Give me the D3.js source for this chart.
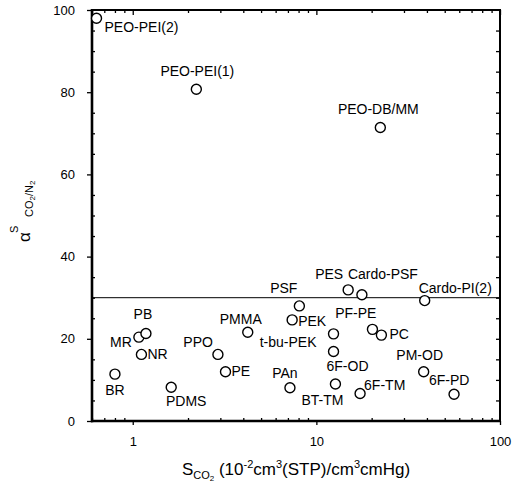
<!DOCTYPE html>
<html>
<head>
<meta charset="utf-8">
<script src="https://cdn.jsdelivr.net/npm/d3@7"></script>
<style>
  body { margin: 0; background: #fff; }
  svg { display: block; font-family: "Liberation Sans", Arial, sans-serif; }
</style>
</head>
<body>
<div id="chart"></div>
<script>
// polymer names, CO2 solubility (x) and CO2/N2 solubility selectivity (y)
const names = ["PEO-PEI(2)", "PEO-PEI(1)", "PEO-DB/MM", "BR", "MR", "PB", "NR", "PDMS",
    "PPO", "PE", "PMMA", "PSF", "PEK", "PAn", "PES", "Cardo-PSF", "Cardo-PI(2)",
    "t-bu-PEK", "6F-OD", "BT-TM", "6F-TM", "PF-PE", "PC", "PM-OD", "6F-PD"];
const solubility = [0.635, 2.22, 22.3, 0.80, 1.08, 1.18, 1.115, 1.62,
    2.91, 3.2, 4.23, 8.08, 7.38, 7.18, 14.9, 17.7, 38.9,
    12.4, 12.4, 12.7, 17.3, 20.2, 22.6, 38.4, 56.2];
const selectivity = [98.0, 80.7, 71.4, 11.4, 20.4, 21.3, 16.2, 8.2,
    16.2, 12.0, 21.6, 28.0, 24.6, 8.1, 31.9, 30.7, 29.3,
    21.2, 16.9, 9.0, 6.7, 22.3, 20.9, 12.0, 6.5];
const upperBound = 30;   // the horizontal reference line

const xMajorTicks = [1, 10, 100];
const yMajorTicks = [0, 20, 40, 60, 80, 100];

// label placement relative to its circle (layout only)
const labelDx = [8, 1, -2, 0, -7, -3, 6, 15, -5, 6, -7, -2, 6, -5, -5, -14, -6, -17, 14, -13, 4, 4, 8, -4, -25];
const labelDy = [14, -13, -14, 21, 10, -14, 5, 19, -7, 4.5, -8, -13, 6, -10, -11, -16, -8, 13, 19, 21, -3, -11, 4, -12, -9];
const labelAnchor = ["start", "middle", "middle", "middle", "end", "middle", "start", "middle",
    "end", "start", "middle", "end", "start", "middle", "end", "start", "start",
    "end", "middle", "middle", "start", "end", "start", "middle", "start"];

const width = 517, height = 490;
const plotLeft = 92, plotRight = 500, plotTop = 10, plotBottom = 421;

const svg = d3.select("#chart").append("svg")
    .attr("width", width)
    .attr("height", height);

const x = d3.scaleLog().domain([0.6, 100]).range([plotLeft, plotRight]);
const y = d3.scaleLinear().domain([0, 100]).range([plotBottom, plotTop]);

// minor tick positions on the log axis
const xMinorTicks = [];
[0.1, 1, 10].forEach(dec => {
    for (let k = 2; k <= 9; k++) {
        const v = +(dec * k).toFixed(3);
        if (v >= 0.6 && v <= 100) xMinorTicks.push(v);
    }
});
const yMinorTicks = d3.range(5, 100, 5).filter(v => v % 20 !== 0);

function styleAxis(g) {
    g.select(".domain").remove();
    g.selectAll("line").attr("stroke", "#000").attr("stroke-width", 1.3);
    g.selectAll("text").attr("fill", "#000").attr("font-size", 13)
        .attr("font-family", '"Liberation Sans", Arial, sans-serif');
}

// bottom: majors outward with labels, minors inward
svg.append("g").attr("transform", `translate(0,${plotBottom})`)
    .call(d3.axisBottom(x).tickValues(xMajorTicks).tickFormat(d3.format("d")).tickSize(4).tickPadding(12))
    .call(styleAxis);
svg.append("g").attr("transform", `translate(0,${plotBottom})`)
    .call(d3.axisBottom(x).tickValues(xMinorTicks).tickFormat("").tickSize(-3))
    .call(styleAxis);

// top: all inward
svg.append("g").attr("transform", `translate(0,${plotTop})`)
    .call(d3.axisTop(x).tickValues(xMajorTicks).tickFormat("").tickSize(-5))
    .call(styleAxis);
svg.append("g").attr("transform", `translate(0,${plotTop})`)
    .call(d3.axisTop(x).tickValues(xMinorTicks).tickFormat("").tickSize(-3))
    .call(styleAxis);

// left: majors outward with labels, minors inward
svg.append("g").attr("transform", `translate(${plotLeft},0)`)
    .call(d3.axisLeft(y).tickValues(yMajorTicks).tickSize(5).tickPadding(12))
    .call(styleAxis);
svg.append("g").attr("transform", `translate(${plotLeft},0)`)
    .call(d3.axisLeft(y).tickValues(yMinorTicks).tickFormat("").tickSize(-3))
    .call(styleAxis);

// right: every 5 inward
svg.append("g").attr("transform", `translate(${plotRight},0)`)
    .call(d3.axisRight(y).tickValues(d3.range(5, 100, 5)).tickFormat("").tickSize(-4))
    .call(styleAxis);

// frame
svg.append("line").attr("x1", plotLeft).attr("x2", plotLeft).attr("y1", plotTop - 1).attr("y2", plotBottom + 1.2)
    .attr("stroke", "#000").attr("stroke-width", 2.6);
svg.append("line").attr("x1", plotLeft - 1).attr("x2", plotRight + 1).attr("y1", plotBottom).attr("y2", plotBottom)
    .attr("stroke", "#000").attr("stroke-width", 2.4);
svg.append("line").attr("x1", plotLeft).attr("x2", plotRight + 1).attr("y1", plotTop).attr("y2", plotTop)
    .attr("stroke", "#000").attr("stroke-width", 2);
svg.append("line").attr("x1", plotRight).attr("x2", plotRight).attr("y1", plotTop).attr("y2", plotBottom)
    .attr("stroke", "#000").attr("stroke-width", 2);

// horizontal reference line
svg.append("line")
    .attr("x1", plotLeft).attr("x2", plotRight)
    .attr("y1", y(upperBound)).attr("y2", y(upperBound))
    .attr("stroke", "#000").attr("stroke-width", 1);

// points
const idx = d3.range(names.length);
svg.append("g").selectAll("circle")
    .data(idx)
    .enter()
    .append("circle")
    .attr("cx", i => x(solubility[i]))
    .attr("cy", i => y(selectivity[i]))
    .attr("r", 5)
    .attr("fill", "#fff")
    .attr("stroke", "#000")
    .attr("stroke-width", 1.4);

svg.append("g").selectAll("text")
    .data(idx)
    .enter()
    .append("text")
    .attr("x", i => x(solubility[i]) + labelDx[i])
    .attr("y", i => y(selectivity[i]) + labelDy[i])
    .attr("text-anchor", i => labelAnchor[i])
    .attr("font-size", 14)
    .attr("fill", "#000")
    .text(i => names[i]);

// x axis title
const xt = svg.append("text")
    .attr("x", (plotLeft + plotRight) / 2)
    .attr("y", 475)
    .attr("text-anchor", "middle")
    .attr("font-size", 17)
    .attr("fill", "#000");
xt.append("tspan").text("S");
xt.append("tspan").attr("font-size", 11).attr("dy", 4).text("CO");
xt.append("tspan").attr("font-size", 8).attr("dy", 2).text("2");
xt.append("tspan").attr("dy", -6).text(" (10");
xt.append("tspan").attr("font-size", 11).attr("dy", -7).text("-2");
xt.append("tspan").attr("dy", 7).text("cm");
xt.append("tspan").attr("font-size", 11).attr("dy", -7).text("3");
xt.append("tspan").attr("dy", 7).text("(STP)/cm");
xt.append("tspan").attr("font-size", 11).attr("dy", -7).text("3");
xt.append("tspan").attr("dy", 7).text("cmHg)");

// y axis title
const yt = svg.append("g").attr("transform", "translate(26,212) rotate(-90)");
yt.append("text").attr("x", -30).attr("y", 4).attr("font-size", 17).attr("fill", "#000").text("α");
yt.append("text").attr("x", -21).attr("y", -8).attr("font-size", 11).attr("fill", "#000").text("S");
const ysub = yt.append("text").attr("x", -5).attr("y", 7).attr("font-size", 11).attr("fill", "#000");
ysub.append("tspan").text("CO");
ysub.append("tspan").attr("font-size", 8).attr("dy", 2).text("2");
ysub.append("tspan").attr("dy", -2).text("/N");
ysub.append("tspan").attr("font-size", 8).attr("dy", 2).text("2");
</script>
</body>
</html>
